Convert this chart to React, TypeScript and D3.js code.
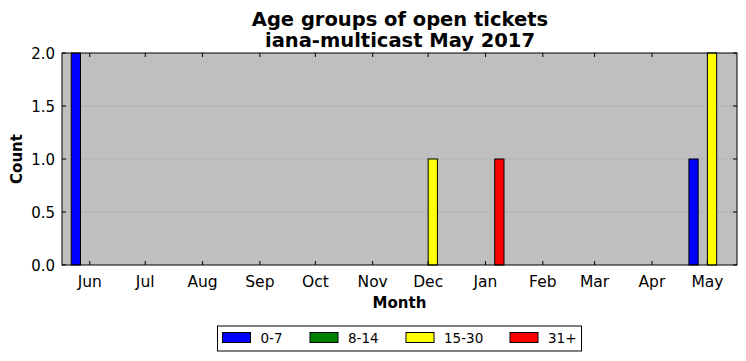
import React from "react";
import * as d3 from "d3";

const months = ["2016-06-01", "2016-07-01", "2016-08-01", "2016-09-01", "2016-10-01", "2016-11-01",
  "2016-12-01", "2017-01-01", "2017-02-01", "2017-03-01", "2017-04-01", "2017-05-01"];
const monthLabels = ["Jun", "Jul", "Aug", "Sep", "Oct", "Nov", "Dec", "Jan", "Feb", "Mar", "Apr", "May"];
const seriesNames = ["0-7", "8-14", "15-30", "31+"];
const seriesColors = ["#0000ff", "#008000", "#ffff00", "#ff0000"];
const age0to7 = [2, 0, 0, 0, 0, 0, 0, 0, 0, 0, 0, 1];
const age8to14 = [0, 0, 0, 0, 0, 0, 0, 0, 0, 0, 0, 0];
const age15to30 = [0, 0, 0, 0, 0, 0, 1, 0, 0, 0, 0, 2];
const age31plus = [0, 0, 0, 0, 0, 0, 0, 1, 0, 0, 0, 0];
const yTicks = [0, 0.5, 1, 1.5, 2];

const W = 746, H = 361;
const m = { left: 62, right: 9, top: 53, bottom: 96 };
const font = "DejaVu Sans, sans-serif";

export default function App() {
  const series = [age0to7, age8to14, age15to30, age31plus];
  const dates = months.map(d => d3.utcParse("%Y-%m-%d")(d) as Date);
  // x axis is a date axis, bars are 5 days wide and shifted per age group
  const x = d3.scaleUtc()
    .domain([new Date(Date.UTC(2016, 4, 17)), new Date(Date.UTC(2017, 4, 17))])
    .range([m.left, W - m.right]);
  const y = d3.scaleLinear().domain([0, 2]).range([H - m.bottom, m.top]);
  const day = 864e5;
  const barOffsets = [-10, -5, 0, 5];
  const barDays = 5;
  const x0 = m.left, x1 = W - m.right, y0 = H - m.bottom, y1 = m.top;

  return (
    <svg width={W} height={H} style={{ position: "absolute", left: 0, top: 0 }} fontFamily={font}>
      <rect x={0} y={0} width={W} height={H} fill="#fff" />
      <rect x={x0} y={y1} width={x1 - x0} height={y0 - y1} fill="#bfbfbf" />
      {yTicks.slice(1, -1).map(t => (
        <line key={t} x1={x0} x2={x1} y1={y(t)} y2={y(t)} stroke="#8a8a8a" strokeWidth={0.8} strokeDasharray="1,3" />
      ))}
      {series.map((vals, si) => vals.map((v, i) => {
        const start = new Date(dates[i].getTime() + barOffsets[si] * day);
        const end = new Date(start.getTime() + barDays * day);
        return (
          <rect key={`${si}-${i}`} x={x(start)} width={x(end) - x(start)} y={y(v)} height={y(0) - y(v)}
            fill={seriesColors[si]} stroke="#000" strokeWidth={1} />
        );
      }))}
      <rect x={x0} y={y1} width={x1 - x0} height={y0 - y1} fill="none" stroke="#000" strokeWidth={1} />
      {dates.map((d, i) => (
        <g key={i}>
          <line x1={x(d)} x2={x(d)} y1={y0} y2={y0 - 4} stroke="#000" />
          <line x1={x(d)} x2={x(d)} y1={y1} y2={y1 + 4} stroke="#000" />
          <text x={x(d)} y={y0 + 22} textAnchor="middle" fontSize={15.5}>{monthLabels[i]}</text>
        </g>
      ))}
      {yTicks.map(t => (
        <g key={t}>
          <line x1={x0} x2={x0 + 4} y1={y(t)} y2={y(t)} stroke="#000" />
          <line x1={x1} x2={x1 - 4} y1={y(t)} y2={y(t)} stroke="#000" />
          <text x={x0 - 7} y={y(t) + 5.5} textAnchor="end" fontSize={15}>{t.toFixed(1)}</text>
        </g>
      ))}
      <text x={(x0 + x1) / 2} y={308} textAnchor="middle" fontSize={15} fontWeight="bold">Month</text>
      <text transform={`translate(21.5,${(y0 + y1) / 2}) rotate(-90)`} textAnchor="middle" fontSize={15} fontWeight="bold">Count</text>
      <text x={400} y={26} textAnchor="middle" fontSize={19.5} fontWeight="bold">Age groups of open tickets</text>
      <text x={400} y={47} textAnchor="middle" fontSize={19.5} fontWeight="bold">iana-multicast May 2017</text>
      <g>
        <rect x={217.5} y={326} width={364} height={25} fill="#fff" stroke="#000" />
        {seriesNames.map((n, i) => {
          const px = [222.5, 310, 406, 510][i];
          return (
            <g key={n}>
              <rect x={px} y={332.5} width={28} height={10} fill={seriesColors[i]} stroke="#000" />
              <text x={px + 38} y={343} fontSize={13.5}>{n}</text>
            </g>
          );
        })}
      </g>
    </svg>
  );
}
